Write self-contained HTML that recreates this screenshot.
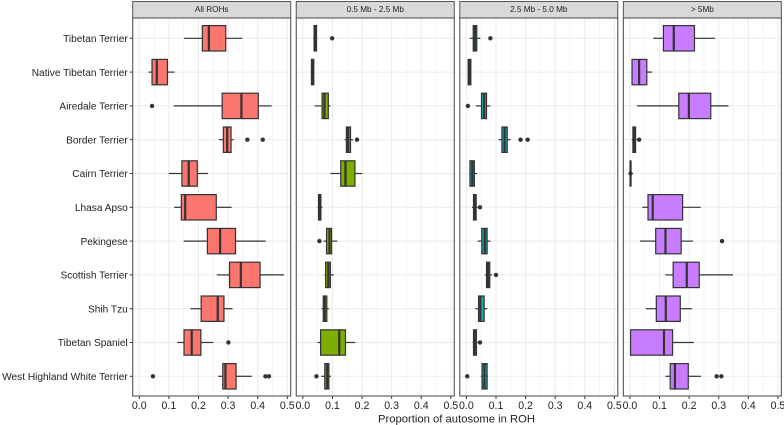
<!DOCTYPE html>
<html>
<head>
<meta charset="utf-8">
<style>
html,body{margin:0;padding:0;background:#fff;width:784px;height:425px;overflow:hidden}
svg{display:block;font-family:"Liberation Sans",sans-serif}
</style>
</head>
<body>
<svg id="chart" xmlns="http://www.w3.org/2000/svg" width="784" height="425" viewBox="0 0 784 425"></svg>
<script>
const categories = ["Tibetan Terrier","Native Tibetan Terrier","Airedale Terrier","Border Terrier","Cairn Terrier","Lhasa Apso","Pekingese","Scottish Terrier","Shih Tzu","Tibetan Spaniel","West Highland White Terrier"];
const panelTitles = ["All ROHs","0.5 Mb - 2.5 Mb","2.5 Mb - 5.0 Mb","> 5Mb"];
const tickLabels = ["0.0","0.1","0.2","0.3","0.4","0.5"];
const tickValues = [0,0.1,0.2,0.3,0.4,0.5];
const minorValues = [0.05,0.15,0.25,0.35,0.45];
const panelColors = ["#FB766E","#7DAE00","#1FA9B0","#C87CFF"];
const xAxisTitle = "Proportion of autosome in ROH";

/* each row: lower whisker, q1, median, q3, upper whisker */
const allRohsStats = [
  [.151,.213,.235,.292,.348],[.032,.043,.059,.095,.119],[.116,.280,.345,.402,.447],
  [.269,.284,.297,.310,.319],[.100,.144,.167,.196,.232],[.118,.142,.155,.260,.312],
  [.150,.230,.273,.325,.427],[.262,.305,.343,.408,.489],[.173,.209,.265,.286,.315],
  [.128,.151,.177,.208,.250],[.267,.282,.291,.327,.380]];
const allRohsOutliers = [[],[],[.043],[.365,.417],[],[],[],[],[],[.301],[.046,.426,.438]];

const midRohsStats = [
  [.035,.038,.042,.046,.049],[.027,.029,.033,.037,.037],[.040,.065,.073,.086,.093],
  [.141,.147,.153,.161,.170],[.093,.128,.144,.176,.201],[.050,.053,.056,.061,.066],
  [.070,.080,.090,.097,.116],[.073,.077,.086,.093,.105],[.063,.069,.074,.081,.088],
  [.050,.060,.123,.144,.177],[.062,.074,.082,.088,.095]];
const midRohsOutliers = [[.099],[],[],[.183],[],[],[.056],[],[],[],[.046]];

const longRohsStats = [
  [.011,.023,.029,.035,.047],[.005,.006,.010,.015,.015],[.032,.051,.060,.068,.081],
  [.109,.120,.129,.138,.149],[.010,.012,.020,.027,.036],[.019,.024,.028,.033,.038],
  [.038,.052,.062,.070,.081],[.062,.068,.073,.079,.087],[.030,.041,.047,.060,.071],
  [.021,.024,.028,.034,.038],[.049,.053,.061,.070,.073]];
const longRohsOutliers = [[.081],[],[.005],[.183,.207],[],[.046],[],[.100],[],[.046],[.003]];

const largeRohsStats = [
  [.079,.113,.148,.218,.288],[.007,.007,.031,.057,.075],[.024,.165,.199,.273,.333],
  [.006,.010,.015,.019,.023],[0,.001,.002,.003,.009],[.042,.061,.077,.178,.239],
  [.034,.087,.120,.173,.213],[.119,.146,.192,.234,.348],[.054,.089,.121,.170,.210],
  [.002,.002,.115,.144,.216],[.120,.136,.152,.197,.240]];
const largeRohsOutliers = [[],[],[],[.031],[.002],[],[.311],[],[],[],[.293,.309]];

const panelStats = [allRohsStats,midRohsStats,longRohsStats,largeRohsStats];
const panelOutliers = [allRohsOutliers,midRohsOutliers,longRohsOutliers,largeRohsOutliers];

const svg = document.getElementById('chart');
const NS = 'http://www.w3.org/2000/svg';
const INK = '#333333';
const panelLeft = i => 132.7 + i * 163.55;
const panelWidth = 158;
const panelTop = 18;
const panelBottom = 396;
const xScale = (i, v) => panelLeft(i) + 6.6 + v * 296;
const yScale = r => 38.3 + r * 33.8;
const boxHalf = 12.7;

function mk(tag, attrs, parent, text) {
  const el = document.createElementNS(NS, tag);
  for (const k in attrs) el.setAttribute(k, attrs[k]);
  if (text !== undefined) el.textContent = text;
  (parent || svg).appendChild(el);
  return el;
}
function ln(parent, x1, y1, x2, y2, stroke, w) {
  return mk('line', {x1, y1, x2, y2, stroke, 'stroke-width': w}, parent);
}

categories.forEach((name, r) => {
  const label = mk('text', {x: 127.8, y: yScale(r) + 3.7, 'text-anchor': 'end', 'font-size': 10.15, fill: '#222'}, svg, name);
  
  
  const tick = ln(svg, 129.7, yScale(r), 132.7, yScale(r), INK, 1);
  
  
});

panelTitles.forEach((title, i) => {
  const L = panelLeft(i);
  const g = mk('g', {}, svg);
  
  

  const strip = mk('rect', {x: L, y: 1.5, width: panelWidth, height: panelTop - 1.5, fill: '#D9D9D9', stroke: '#555', 'stroke-width': 1}, g);
  
  
  const stripText = mk('text', {x: L + panelWidth / 2, y: 12, 'text-anchor': 'middle', 'font-size': 8.2, fill: '#222'}, g, title);
  
  

  minorValues.forEach(v => {
    const m = ln(g, xScale(i, v), panelTop, xScale(i, v), panelBottom, '#F0F0F0', 0.7);
    
    
  });
  tickValues.forEach((v, t) => {
    const grid = ln(g, xScale(i, v), panelTop, xScale(i, v), panelBottom, '#EBEBEB', 1);
    
    
    const tick = ln(g, xScale(i, v), panelBottom, xScale(i, v), panelBottom + 3, INK, 1);
    
    
    const tl = mk('text', {x: xScale(i, v), y: 409.2, 'text-anchor': 'middle', 'font-size': 10.6, fill: '#222'}, g, tickLabels[t]);
    
    
  });
  categories.forEach((_, r) => {
    const h = ln(g, L, yScale(r), L + panelWidth, yScale(r), '#EBEBEB', 1);
    
    
  });

  panelStats[i].forEach((s, r) => {
    const y = yScale(r);
    const box = mk('g', {}, g);
    
    
    ln(box, xScale(i, s[0]), y, xScale(i, s[1]), y, INK, 1.2);
    ln(box, xScale(i, s[3]), y, xScale(i, s[4]), y, INK, 1.2);
    mk('rect', {x: xScale(i, s[1]), y: y - boxHalf, width: xScale(i, s[3]) - xScale(i, s[1]), height: boxHalf * 2, fill: panelColors[i], stroke: INK, 'stroke-width': 1.2}, box);
    ln(box, xScale(i, s[2]), y - boxHalf, xScale(i, s[2]), y + boxHalf, INK, 2.2);
    panelOutliers[i][r].forEach(v => {
      const o = mk('circle', {cx: xScale(i, v), cy: y, r: 2.2, fill: INK}, box);
      
      
    });
  });

  const border = mk('rect', {x: L, y: panelTop, width: panelWidth, height: panelBottom - panelTop, fill: 'none', stroke: '#555', 'stroke-width': 1.1}, g);
  
  
});

const xt = mk('text', {x: 456.5, y: 422.5, 'text-anchor': 'middle', 'font-size': 11.25, fill: '#222'}, svg, xAxisTitle);


</script>
</body>
</html>
